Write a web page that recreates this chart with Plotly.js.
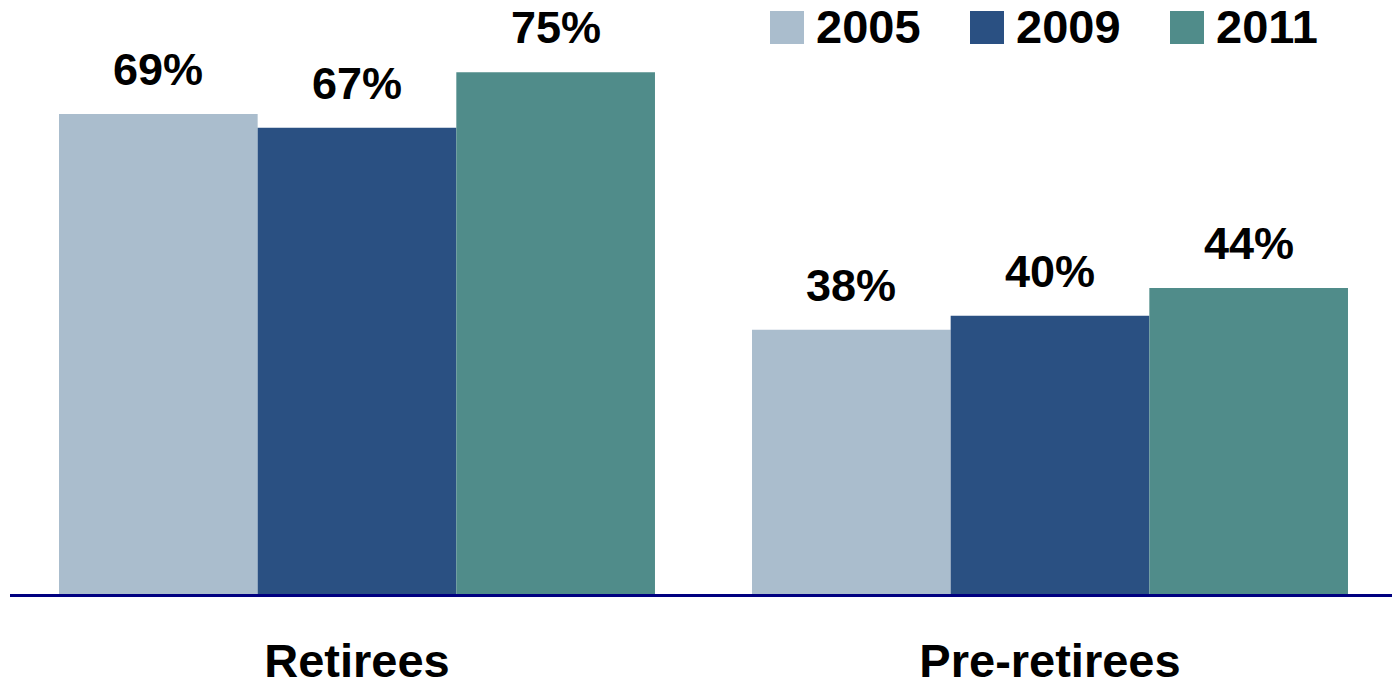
<!DOCTYPE html>
<html>
<head>
<meta charset="utf-8">
<script src="https://cdn.plot.ly/plotly-3.0.1.min.js"></script>
<style>html,body{margin:0;padding:0;background:#fff;}#chart{width:1392px;height:690px;}</style>
</head>
<body>
<div id="chart"></div>
<script>
const categories = ["Retirees", "Pre-retirees"];
const seriesNames = ["2005", "2009", "2011"];
const values2005 = [69, 38];
const values2009 = [67, 40];
const values2011 = [75, 44];
const seriesValues = [values2005, values2009, values2011];
const colors = ["#AABDCD", "#2A5082", "#508C8A"];

const FONT = "Liberation Sans, Arial, Helvetica, sans-serif";
const bargap = 0.14;
const xpos = categories.map((c, i) => i);

const traces = seriesNames.map((name, s) => ({
  type: "bar",
  name: name,
  x: xpos,
  y: seriesValues[s],
  marker: {color: colors[s], line: {width: 0}},
  showlegend: false,
  hoverinfo: "skip"
}));

const w = (1 - bargap) / seriesNames.length;
const annotations = [];
seriesNames.forEach((name, s) => {
  seriesValues[s].forEach((v, i) => {
    annotations.push({
      x: xpos[i] + (s - (seriesNames.length - 1) / 2) * w,
      y: v, xref: "x", yref: "y",
      text: v + "%", showarrow: false,
      yanchor: "bottom", yshift: 17,
      font: {family: FONT, size: 45, color: "#000", weight: "bold"}
    });
  });
});

// manual legend
const shapes = [];
const legX = [770, 970, 1170];
seriesNames.forEach((name, s) => {
  const x0 = legX[s];
  shapes.push({
    type: "rect", xref: "paper", yref: "paper",
    x0: (x0 - 10) / 1382, x1: (x0 + 34 - 10) / 1382,
    y0: (594 - 44) / 594, y1: (594 - 11) / 594,
    fillcolor: colors[s], line: {width: 0}
  });
  annotations.push({
    xref: "paper", yref: "paper",
    x: (x0 + 44 - 10) / 1382, y: (594 - 26) / 594,
    xanchor: "left", yanchor: "middle",
    text: name, showarrow: false,
    font: {family: FONT, size: 47, color: "#000", weight: "bold"}
  });
});

const layout = {
  width: 1392, height: 690,
  margin: {l: 10, r: 0, t: 0, b: 96, pad: 0},
  paper_bgcolor: "#fff", plot_bgcolor: "#fff",
  barmode: "group", bargap: bargap, bargroupgap: 0,
  showlegend: false,
  xaxis: {
    range: [-0.5007, 1.4935],
    tickvals: xpos, ticktext: categories,
    showline: true, linecolor: "#000080", linewidth: 3,
    showgrid: false, zeroline: false, ticks: "",
    ticklabelstandoff: 24,
    tickfont: {family: FONT, size: 47, color: "#000", weight: "bold"},
    fixedrange: true
  },
  yaxis: {
    range: [0, 85.38],
    showgrid: false, zeroline: false, showline: false,
    showticklabels: false, ticks: "", fixedrange: true
  },
  annotations: annotations,
  shapes: shapes
};

Plotly.newPlot("chart", traces, layout, {displayModeBar: false, staticPlot: true});
</script>
</body>
</html>
